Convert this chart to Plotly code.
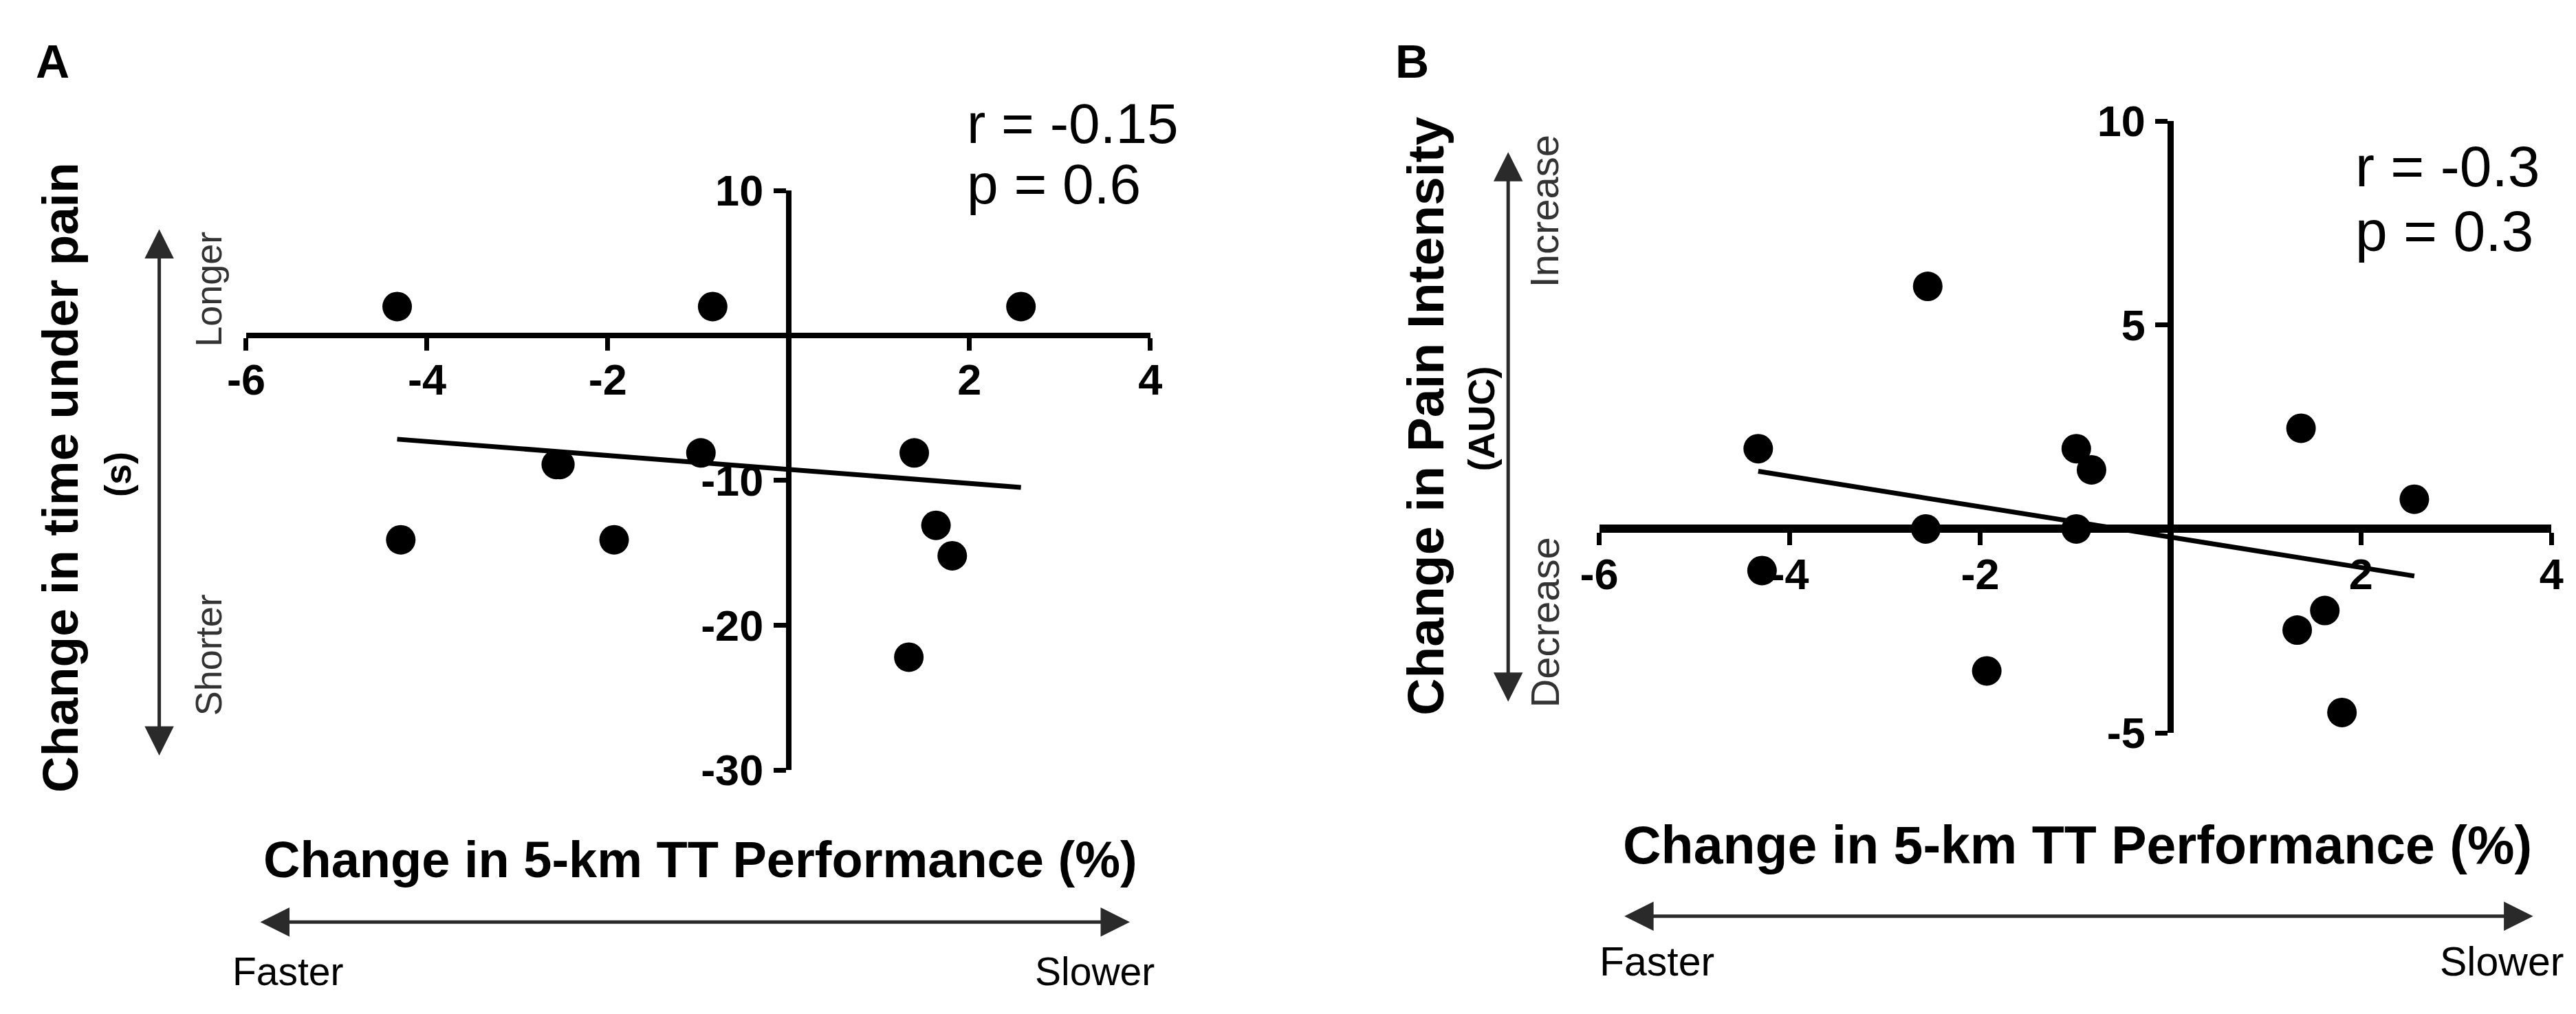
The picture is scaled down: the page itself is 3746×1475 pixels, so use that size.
import numpy as np
import plotly.graph_objects as go

# ---------------- data ----------------
# Panel A: change in 5-km TT performance (%) vs change in time under pain (s)
a_x = [-4.33, -0.84, 2.57, -0.97, -2.57, -2.53, 1.39, -4.29, -1.93, 1.63, 1.81, 1.33]
a_y = [2.0, 2.0, 2.0, -8.1, -8.9, -8.9, -8.1, -14.1, -14.1, -13.1, -15.2, -22.2]

# Panel B: change in 5-km TT performance (%) vs change in pain intensity (AUC)
b_x = [-4.33, -2.55, -0.99, -0.83, 1.37, 2.56, -2.57, -0.99, -4.29, 1.33, 1.62, -1.93, 1.80]
b_y = [1.97, 5.95, 1.97, 1.45, 2.47, 0.73, 0.0, 0.0, -1.02, -2.48, -2.0, -3.48, -4.5]

x_ticks = [-6, -4, -2, 0, 2, 4]
x_ticktext = ["-6", "-4", "-2", "", "2", "4"]
a_yticks = [10, 0, -10, -20, -30]
a_yticktext = ["10", "", "-10", "-20", "-30"]
b_yticks = [10, 5, 0, -5]
b_yticktext = ["10", "5", "", "-5"]

a_stats = ["r = -0.15", "p = 0.6"]
b_stats = ["r = -0.3", "p = 0.3"]

W, H = 3746, 1475
FONT = "Liberation Sans, Arial, sans-serif"


def px(v):
    return v / W


def py(v):
    return 1 - v / H


def fit_line(xs, ys):
    k, b = np.polyfit(xs, ys, 1)
    xx = np.array([min(xs), max(xs)])
    return xx, k * xx + b


fig = go.Figure()

fig.add_trace(go.Scatter(x=a_x, y=a_y, mode="markers", xaxis="x", yaxis="y",
                         marker=dict(size=43, color="black"), cliponaxis=False,
                         hoverinfo="skip"))
fx, fy = fit_line(a_x, a_y)
fig.add_trace(go.Scatter(x=fx, y=fy, mode="lines", xaxis="x", yaxis="y",
                         line=dict(color="black", width=7), hoverinfo="skip"))

fig.add_trace(go.Scatter(x=b_x, y=b_y, mode="markers", xaxis="x2", yaxis="y2",
                         marker=dict(size=43, color="black"), cliponaxis=False,
                         hoverinfo="skip"))
fx, fy = fit_line(b_x, b_y)
fig.add_trace(go.Scatter(x=fx, y=fy, mode="lines", xaxis="x2", yaxis="y2",
                         line=dict(color="black", width=7), hoverinfo="skip"))

tickfont = dict(family=FONT, size=63, color="black", weight="bold")

# Panel A axes
a_xdom = [px(326), px(1657)]
a_ydom = [py(1131), py(246)]
a_xpos = a_ydom[0] + (0 - (-30)) / 40 * (a_ydom[1] - a_ydom[0])
a_ypos = a_xdom[0] + (0 - (-6)) / 10 * (a_xdom[1] - a_xdom[0])

# Panel B axes
b_xdom = [px(2318), px(3720)]
b_ydom = [py(1074), py(140)]
b_xpos = b_ydom[0] + (0 - (-5)) / 15 * (b_ydom[1] - b_ydom[0])
b_ypos = b_xdom[0] + (0 - (-6)) / 10 * (b_xdom[1] - b_xdom[0])

common = dict(showgrid=False, zeroline=False, showline=True, linecolor="black",
              ticks="outside", tickcolor="black", ticklen=18, tickwidth=7,
              tickfont=tickfont, layer="below traces", fixedrange=True)

fig.update_layout(
    width=W, height=H,
    margin=dict(l=0, r=0, t=0, b=0),
    paper_bgcolor="white", plot_bgcolor="white",
    showlegend=False,
    font=dict(family=FONT, color="black"),
    xaxis=dict(domain=a_xdom, range=[-6, 4], anchor="free", position=a_xpos,
               tickvals=x_ticks, ticktext=x_ticktext, linewidth=8,
               ticklabelstandoff=-12, **common),
    yaxis=dict(domain=a_ydom, range=[-30, 10], anchor="free", position=a_ypos,
               tickvals=a_yticks, ticktext=a_yticktext, linewidth=8,
               ticklabelstandoff=2, **common),
    xaxis2=dict(domain=b_xdom, range=[-6, 4], anchor="free", position=b_xpos,
                tickvals=x_ticks, ticktext=x_ticktext, linewidth=12,
                ticklabelstandoff=-12, **common),
    yaxis2=dict(domain=b_ydom, range=[-5, 10], anchor="free", position=b_ypos,
                tickvals=b_yticks, ticktext=b_yticktext, linewidth=9,
                ticklabelstandoff=2, **common),
)

ann = []


def text(t, x, y, size, bold=False, xanchor="center", yanchor="middle",
         angle=0, color="black"):
    ann.append(dict(text=t, x=x, y=y, xref="paper", yref="paper",
                    xanchor=xanchor, yanchor=yanchor, showarrow=False,
                    textangle=angle,
                    font=dict(family=FONT, size=size, color=color,
                              weight="bold" if bold else "normal")))


def arrow(x0, y0, x1, y1):
    # coordinates in figure pixels (top-left origin); tail (x0,y0), head (x1,y1)
    ann.append(dict(text="", x=px(x1), y=py(y1), ax=x0 - x1, ay=y0 - y1,
                    xref="paper", yref="paper", axref="pixel", ayref="pixel",
                    showarrow=True, arrowhead=2, arrowside="end+start",
                    arrowwidth=5, arrowsize=1.7, arrowcolor="#2a2a2a",
                    standoff=0, startstandoff=0))


# Panel labels
text("A", px(14), py(48), 68, bold=True, xanchor="left")
text("B", px(2016), py(48), 68, bold=True, xanchor="left")

# Panel A texts
text(a_stats[0], px(1385), py(143), 82, xanchor="left")
text(a_stats[1], px(1385), py(236), 82, xanchor="left")
text("Change in 5-km TT Performance (%)", px(995), py(1268), 74, bold=True)
arrow(361, 1363, 1627, 1363)
text("Faster", px(304), py(1438), 57, xanchor="left")
text("Slower", px(1665), py(1438), 57, xanchor="right")
text("Change in time under pain", px(52), py(684), 73, bold=True, angle=-90)
text("(s)", px(136), py(679), 54, bold=True, angle=-90)
arrow(198, 1072, 198, 305)
text("Longer", px(270), py(397), 54, angle=-90, color="#333")
text("Shorter", px(270), py(955), 54, angle=-90, color="#333")

# Panel B texts
text(b_stats[0], px(3429), py(209), 84, xanchor="left")
text(b_stats[1], px(3429), py(308), 84, xanchor="left")
text("Change in 5-km TT Performance (%)", px(3022), py(1245), 77, bold=True)
arrow(2370, 1354, 3693, 1354)
text("Faster", px(2316), py(1424), 59, xanchor="left")
text("Slower", px(3740), py(1424), 59, xanchor="right")
text("Change in Pain Intensity", px(2062), py(590), 75, bold=True, angle=-90)
text("(AUC)", px(2144), py(594), 54, bold=True, angle=-90)
arrow(2184, 988, 2184, 187)
text("Increase", px(2237), py(278), 58, angle=-90, color="#333")
text("Decrease", px(2237), py(906), 58, angle=-90, color="#333")

fig.update_layout(annotations=ann)

fig.write_html("out.html")
